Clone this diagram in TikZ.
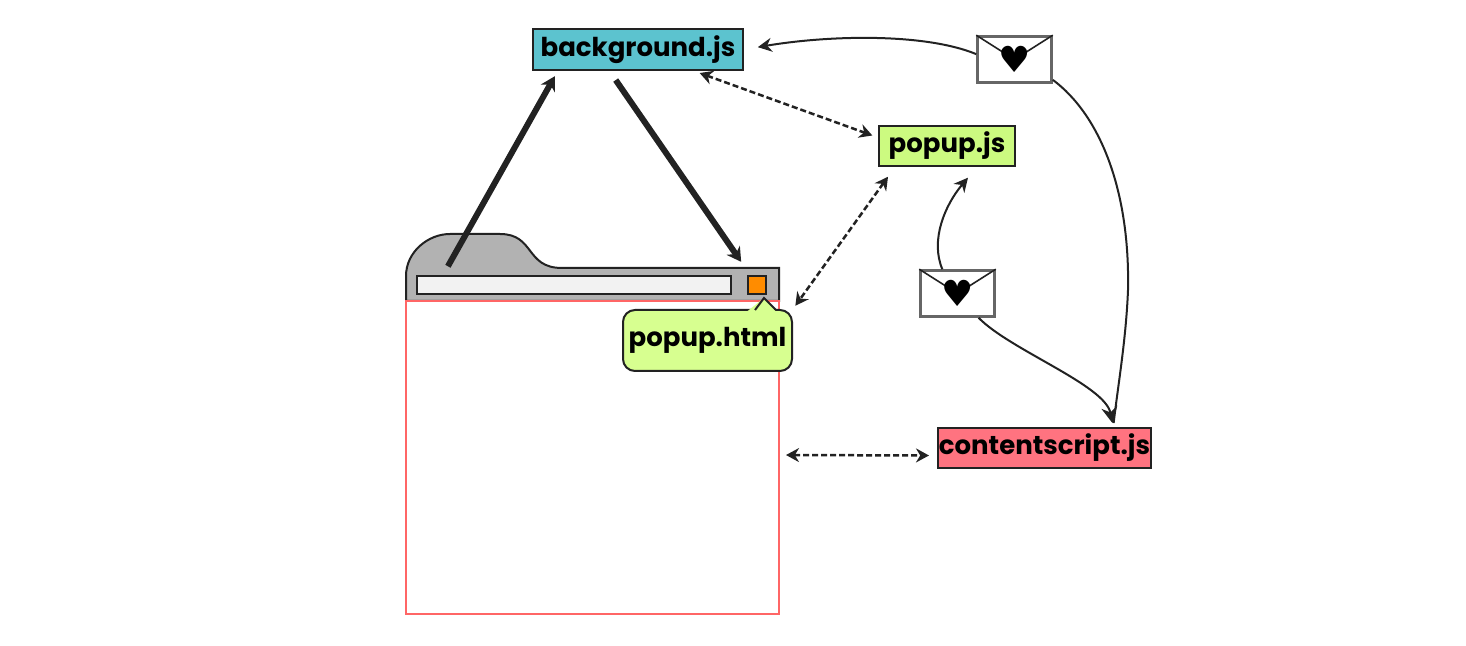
\documentclass[tikz,border=0pt]{standalone}
\usepackage{fontspec}
\setmainfont{Poppins}
\newfontfamily\symfont{DejaVu Sans}
\usetikzlibrary{arrows.meta}
\definecolor{inkdark}{HTML}{222222}
\definecolor{bgblue}{HTML}{5CC3CF}
\definecolor{popgreen}{HTML}{CCFA80}
\definecolor{htmlgreen}{HTML}{D7FF90}
\definecolor{csred}{HTML}{FF7380}
\tikzset{
  filebox/.style={draw=inkdark,line width=1pt,inner sep=0pt,font=\fontsize{13}{15}\selectfont\bfseries,text=black},
  envelope/.style={draw=black!60,line width=1.3pt,fill=white,minimum width=37pt,minimum height=23pt,inner sep=0pt},
  heartmark/.style={inner sep=0pt,font=\symfont\fontsize{18}{18}\selectfont},
  thickarrow/.style={draw=inkdark,line width=3pt,-{Stealth[length=7pt,width=8pt]}},
  dashedarrow/.style={draw=inkdark,line width=1.25pt,dash pattern=on 3pt off 1.5pt,{Stealth[length=6.5pt,width=7pt]}-{Stealth[length=6.5pt,width=7pt]}},
  curvearrow/.style={draw=inkdark,line width=1pt,-{Stealth[length=7pt,width=7pt]}},
  curveline/.style={draw=inkdark,line width=1pt}
}
\begin{document}
\begin{tikzpicture}[x=0.5pt,y=-0.5pt]
  \useasboundingbox (0,0) rectangle (1466,646);

  % browser
  \path[draw=inkdark,line width=1pt,fill=black!30] (406,301) -- (406,276) .. controls (406,252) and (428,234) .. (450,234)
    -- (500,234) .. controls (535,234) and (525,268) .. (562,268) -- (779,268) -- (779,301) -- cycle;
  \node[draw=red!60,line width=1pt,minimum width=186.5pt,minimum height=156.5pt,inner sep=0pt] (window) at (592.5,457.5) {};
  \node[draw=inkdark,line width=1pt,fill=black!5,minimum width=157pt,minimum height=9pt,inner sep=0pt] (addressbar) at (574,285) {};
  \node[draw=inkdark,line width=1pt,fill=orange!90!yellow,minimum size=9pt,inner sep=0pt] (button) at (757,285) {};

  % files
  \node[filebox,fill=bgblue,minimum width=105pt,minimum height=20.5pt] (background) at (638,49.5) {background.js};
  \node[filebox,fill=popgreen,minimum width=68pt,minimum height=20pt] (popupjs) at (947,146) {popup.js};
  \node[filebox,fill=csred,minimum width=106.5pt,minimum height=20pt] (contentscript) at (1044.5,448) {contentscript.js};
  \node[filebox,fill=htmlgreen,rounded corners=6pt,minimum width=84.5pt,minimum height=30.5pt] (popuphtml) at (707.5,340.5) {popup.html};
  \fill[htmlgreen] (747,311.5) -- (764,298) -- (776,311.5) -- cycle;
  \draw[inkdark,line width=1pt] (755,310) -- (764,298) -- (776,310);

  % messages
  \node[envelope] (envtop) at (1014.5,59.5) {};
  \draw[inkdark,line width=.8pt] (envtop.north west) -- (envtop.center) -- (envtop.north east);
  \node[heartmark] (hearttop) at (envtop.center) {♥};
  \node[envelope] (envmid) at (957.5,293.5) {};
  \draw[inkdark,line width=.8pt] (envmid.north west) -- (envmid.center) -- (envmid.north east);
  \node[heartmark] (heartmid) at (envmid.center) {♥};

  \draw[thickarrow,shorten <=5pt,shorten >=3pt] ([xshift=13.5pt]addressbar.north west) -- (background.-165);
  \draw[thickarrow,shorten <=5.5pt,shorten >=8pt] (background.-143) -- (button.124);

  \draw[dashedarrow,shorten <=3pt,shorten >=3pt] (background.-21) -- (popupjs.173);
  \draw[dashedarrow,shorten <=6pt,shorten >=2pt] (popupjs.-158) -- (popuphtml.north east);
  \draw[dashedarrow,shorten <=3pt,shorten >=4pt] ([yshift=1.25pt]window.east) -- (contentscript.-176);

  \draw[curvearrow,shorten >=7pt] (envtop.172) .. controls (925,33) and (830,35) .. (background.east);
  \draw[curveline,shorten >=2pt] (envtop.-28) .. controls (1100,115) and (1130,190) .. (1128,290) .. controls (1126,340) and (1118,385) .. (contentscript.17);
  \draw[curvearrow,shorten >=7pt] (envmid.122) .. controls (930,240) and (945,205) .. (popupjs.-35);
  \draw[curvearrow,shorten >=2pt,-{Stealth[length=8pt,width=8pt]}] (envmid.-49) .. controls (1010,350) and (1105,385) .. (contentscript.17);
\end{tikzpicture}
\end{document}
